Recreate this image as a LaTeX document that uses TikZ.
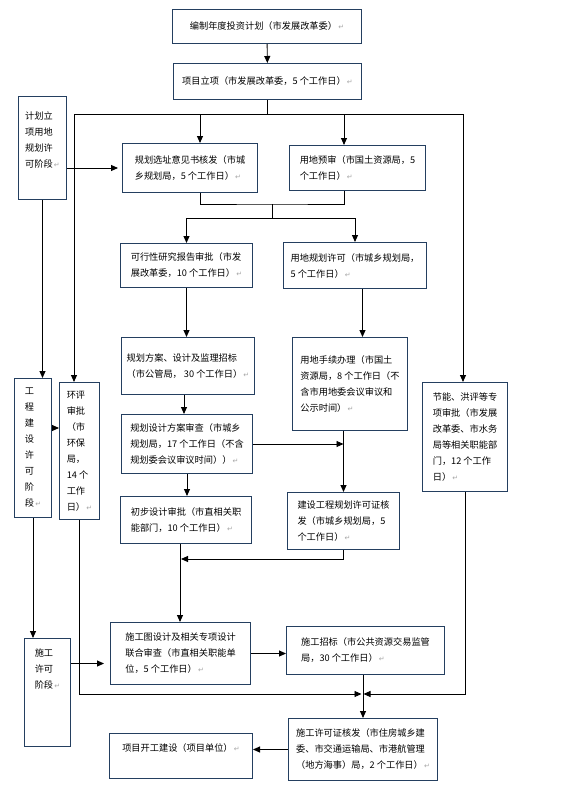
\documentclass[tikz,border=0pt]{standalone}
\usepackage{fontspec}
\newfontfamily\cjk{Noto Sans CJK SC}
\newfontfamily\dejavu{DejaVu Sans}
\usepackage{xcolor}
\usetikzlibrary{arrows.meta,positioning}
\definecolor{flowline}{HTML}{243F60}
\definecolor{flowmark}{HTML}{A6A6A6}
\newcommand{\ret}{{\dejavu\fontsize{7}{16}\selectfont\color{flowmark}\,↵}}

\begin{document}
\begin{tikzpicture}[
  x=1pt, y=-1pt,
  box/.style={draw=flowline,line width=1pt,fill=white,anchor=north west,align=left,inner xsep=3pt,inner ysep=2pt,font=\cjk\fontsize{9.2}{16}\selectfont},
  arrow/.style={-{Triangle[length=7pt,width=6pt]},line width=0.9pt,color=black},
  link/.style={line width=0.9pt,color=black}
]
  \useasboundingbox (0,0) rectangle (560,790);
  % main column
  \node[box,minimum width=189pt,minimum height=34pt,align=center] (plan) at (172,9) {编制年度投资计划（市发展改革委）\ret};
  \node[box,minimum width=188pt,minimum height=36pt,align=center] (approve) at (173,63) {项目立项（市发展改革委，5 个工作日）\ret};
  \node[box,minimum width=135pt,minimum height=49pt] (site) at (122,143) {规划选址意见书核发（市城\\乡规划局，5 个工作日）\ret};
  \node[box,minimum width=136pt,minimum height=45pt] (landpre) at (289,145) {用地预审（市国土资源局，5\\个工作日）\ret};
  \node[box,minimum width=132pt,minimum height=44pt] (feas) at (120,243) {可行性研究报告审批（市发\\展改革委，10 个工作日）\ret};
  \node[box,minimum width=143pt,minimum height=46pt] (landplan) at (283,242) {用地规划许可（市城乡规划局，\\5 个工作日）\ret};
  \node[box,minimum width=133pt,minimum height=57pt] (scheme) at (121,337) {规划方案、设计及监理招标\\（市公管局， 30 个工作日）\ret};
  \node[box,minimum width=115pt,minimum height=93pt] (landproc) at (292,337) {用地手续办理（市国土\\资源局，8 个工作日（不\\含市用地委会议审议和\\公示时间）\ret};
  \node[box,minimum width=131pt,minimum height=59pt] (review) at (121,414) {规划设计方案审查（市城乡\\规划局，17 个工作日（不含\\规划委会议审议时间））\ret};
  \node[box,minimum width=131pt,minimum height=47pt] (prelim) at (120,496) {初步设计审批（市直相关职\\能部门，10 个工作日）\ret};
  \node[box,minimum width=112pt,minimum height=57pt] (buildlic) at (287,492) {建设工程规划许可证核\\发（市城乡规划局，5\\个工作日）\ret};
  \node[box,minimum width=140pt,minimum height=62pt] (drawing) at (110,622) {施工图设计及相关专项设计\\联合审查（市直相关职能单\\位，5 个工作日）\ret};
  \node[box,minimum width=158pt,minimum height=48pt] (tender) at (286,626) {施工招标（市公共资源交易监管\\局，30 个工作日）\ret};
  \node[box,minimum width=149pt,minimum height=62pt] (permit) at (288,718) {施工许可证核发（市住房城乡建\\委、市交通运输局、市港航管理\\（地方海事）局，2 个工作日）\ret};
  \node[box,minimum width=143pt,minimum height=45pt,align=center] (start) at (109,733) {项目开工建设（项目单位）\ret\\~};
  % side columns
  \node[box,minimum width=48pt,minimum height=103pt] (planstage) at (18,96) {计划立\\项用地\\规划许\\可阶段\ret\\~};
  \node[box,minimum width=37pt,minimum height=139pt] (buildstage) at (14,378) {工\\程\\建\\设\\许\\可\\阶\\段\ret};
  \node[box,minimum width=40pt,minimum height=137pt] (eia) at (59,382) {环评\\审批\\（市\\环保\\局，\\14 个\\工作\\日）\ret};
  \node[box,minimum width=46pt,minimum height=108pt] (workstage) at (24,638) {施工\\许可\\阶段\ret\\~\\~\\~};
  \node[box,minimum width=85pt,minimum height=109pt] (energy) at (422,382) {节能、洪评等专\\项审批（市发展\\改革委、市水务\\局等相关职能部\\门，12 个工作\\日）\ret};

  \coordinate (busL) at (74,114);
  \coordinate (busR) at (463,114);
  \coordinate (toSite) at (200,114);
  \coordinate (toLandpre) at (344,114);
  \coordinate (joinA) at (272,204);
  \coordinate (splitA) at (272,218);
  \coordinate (joinB) at (180,559);
  \coordinate (merge) at (362.5,694);
  \coordinate (lpOut) at ([xshift=7.5pt]landplan.south);
  \coordinate (scOut) at ([xshift=-4pt]scheme.south);
  \coordinate (bsOut) at ([yshift=20pt]buildstage.east);
  \coordinate (wsOut) at ([yshift=29pt]workstage.east);

  \draw[arrow] (plan) -- (approve);
  \draw[link] (approve.south) -- (approve.south |- busL);
  \draw[link] (busL) -- (busR);
  \draw[arrow] (busL) -- (busL |- eia.north);
  \draw[arrow] (busR) -- (busR |- energy.north);
  \draw[arrow] (toSite) -- (toSite |- site.north);
  \draw[arrow] (toLandpre) -- (toLandpre |- landpre.north);
  \draw[arrow,shorten >=4pt] (planstage.east |- site.west) -- (site.west);
  \draw[link] (toSite |- site.south) |- (joinA) -| (toLandpre |- landpre.south);
  \draw[link] (joinA) -- (splitA);
  \draw[arrow] (splitA) -| (feas.north);
  \draw[arrow] (splitA) -| (landplan.north);
  \draw[arrow] (feas) -- (feas |- scheme.north);
  \draw[arrow] (lpOut) -- (lpOut |- landproc.north);
  \draw[arrow] (scOut) -- (scOut |- review.north);
  \draw[arrow] (buildlic.north |- landproc.south) -- (buildlic.north);
  \draw[arrow] (review.east) -- (review.east -| buildlic.north);
  \draw[arrow] (review) -- (review |- prelim.north);
  \draw[arrow,shorten >=1pt] (buildlic.south) |- (joinB);
  \draw[arrow] (prelim.south -| joinB) -- (joinB |- drawing.north);
  \draw[arrow] (drawing.east) -- (drawing.east -| tender.west);
  \draw[arrow] (tender.south -| permit.north) -- (permit.north);
  \draw[arrow] (permit.west) -- (permit.west -| start.east);
  \draw[arrow,shorten >=1pt] (eia.south) |- (merge);
  \draw[arrow,shorten >=1pt] (energy.south) |- (merge);
  % stage column
  \draw[arrow] (planstage.south) -- (planstage.south |- buildstage.north);
  \draw[arrow] (bsOut) -- (bsOut -| eia.west);
  \draw[arrow] (buildstage.south) -- (buildstage.south |- workstage.north);
  \draw[arrow,shorten >=6pt] (wsOut) -- (wsOut -| drawing.west);
\end{tikzpicture}
\end{document}
